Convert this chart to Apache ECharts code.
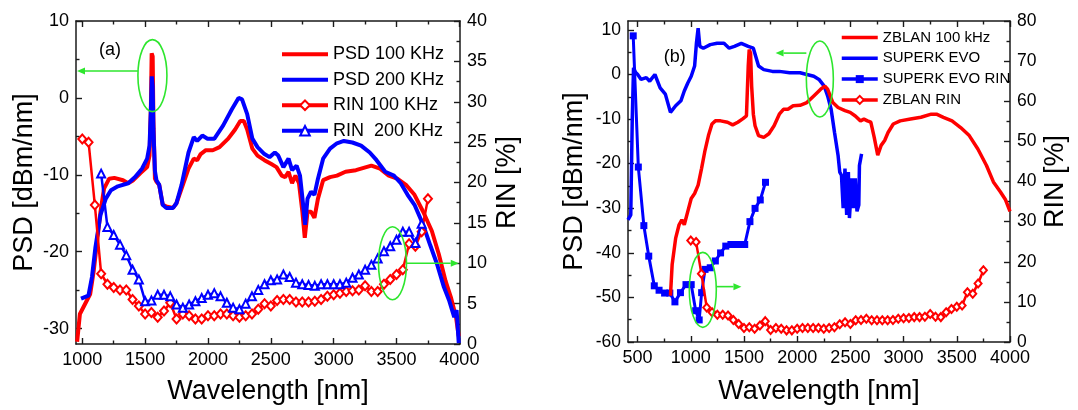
<!DOCTYPE html>
<html><head><meta charset="utf-8">
<script src="https://cdn.jsdelivr.net/npm/echarts@6/dist/echarts.min.js"></script>
<style>html,body{margin:0;padding:0;background:#fff}#c{width:1078px;height:410px}</style>
</head><body><div id="c"></div>
<script>
// ===== Panel (a) data =====
const aPsd100Nm = [959,981,1022,1063,1091,1118,1145,1173,1214,1255,1324,1365,1406,1461,1516,1535,1546,1552,1560,1566,1578,1590,1612,1640,1667,1722,1749,1790,1845,1887,1914,1942,1983,2038,2092,2161,2216,2257,2285,2312,2353,2394,2449,2504,2545,2587,2614,2641,2669,2696,2724,2751,2770,2792,2820,2847,2875,2916,2971,3026,3094,3177,3259,3300,3369,3438,3506,3575,3643,3712,3781,3836,3890,3932,3973,3995];
const aPsd100Db = [-31.7,-28.1,-26.8,-25.5,-22.5,-18.6,-14.8,-11.8,-10.5,-10.4,-10.7,-11.1,-10.7,-9.8,-9.0,-7.5,-1.0,5.8,5.4,-3.0,-10.5,-10.9,-11.3,-13.9,-14.1,-14.3,-13.7,-11.8,-9.2,-7.9,-8.1,-7.3,-6.8,-6.8,-6.4,-5.3,-4.1,-3.0,-3.0,-4.1,-6.6,-7.5,-8.1,-8.6,-9.0,-10.1,-10.3,-9.6,-11.1,-10.1,-11.1,-14.8,-18.2,-14.8,-14.8,-15.6,-13.1,-10.7,-10.3,-10.1,-9.6,-9.4,-9.0,-8.8,-9.2,-10.1,-10.5,-11.3,-12.6,-14.8,-17.3,-20.3,-23.8,-25.9,-28.5,-31.0];
const aPsd200Nm = [990,1049,1077,1104,1145,1187,1228,1283,1365,1420,1475,1516,1535,1546,1553,1560,1566,1578,1590,1612,1640,1667,1722,1749,1790,1845,1887,1914,1955,1996,2051,2120,2189,2243,2271,2312,2353,2394,2449,2490,2532,2559,2600,2641,2669,2705,2732,2757,2773,2792,2820,2847,2875,2916,2971,3026,3081,3149,3218,3287,3341,3410,3479,3534,3588,3643,3712,3767,3822,3877,3918,3959,3978,3995];
const aPsd200Db = [-26.1,-25.7,-23.3,-19.5,-15.2,-13.1,-12.0,-11.5,-11.1,-10.3,-9.2,-7.9,-6.2,-1.5,2.8,1.5,-4,-9.5,-10.7,-11.3,-13.9,-14.3,-14.3,-13.7,-11.3,-7.1,-5.1,-5.6,-4.9,-5.3,-5.3,-3.6,-1.5,0.0,-0.2,-2.1,-5.3,-6.4,-7.3,-7.7,-7.1,-7.5,-9.0,-7.9,-9.4,-8.8,-10.1,-13.9,-16.5,-13.1,-12.2,-12.6,-10.5,-7.9,-6.6,-5.9,-5.6,-5.8,-6.2,-7.1,-8.1,-9.6,-10.1,-11.1,-12.6,-13.9,-16.5,-19.1,-21.6,-24.6,-26.3,-28.5,-27.6,-31.9];
const aRin100Nm = [1000,1050,1100,1150,1200,1250,1300,1350,1400,1450,1500,1550,1600,1650,1700,1750,1800,1850,1900,1950,2000,2050,2100,2150,2200,2250,2300,2350,2400,2450,2500,2550,2600,2650,2700,2750,2800,2850,2900,2950,3000,3050,3100,3150,3200,3250,3300,3350,3400,3450,3500,3550,3600,3650,3700,3750];
const aRin100Pct = [25.4,25.0,17.2,8.7,7.4,7.0,6.7,6.7,5.5,4.7,3.7,3.9,3.3,4.1,5.1,3.1,3.7,3.5,3.1,3.1,3.5,3.5,3.7,3.7,3.5,3.3,3.5,3.7,4.3,5.0,4.7,5.4,5.5,5.5,5.2,5.2,5.2,5.3,5.5,5.9,6.1,6.3,6.5,6.6,6.7,7.2,6.5,6.5,7.4,8.0,8.6,9.2,12.4,12.1,13.9,18.0];
const aRin200Nm = [1150,1200,1250,1300,1350,1400,1450,1500,1550,1600,1650,1700,1750,1800,1850,1900,1950,2000,2050,2100,2150,2200,2250,2300,2350,2400,2450,2500,2550,2600,2650,2700,2750,2800,2850,2900,2950,3000,3050,3100,3150,3200,3250,3300,3350,3400,3450,3500,3550,3600,3650,3700];
const aRin200Pct = [21.1,14.5,13.5,12.3,11.0,9.2,8.0,5.3,5.4,6.1,6.1,5.9,4.9,4.5,4.9,5.3,5.7,6.1,6.3,5.9,5.1,4.5,4.3,5.0,5.9,6.7,7.4,7.9,8.0,8.6,8.3,7.6,7.4,7.3,7.2,7.4,7.4,7.4,7.4,7.6,8.2,8.6,9.2,9.8,10.6,11.5,12.1,12.9,13.9,13.9,12.5,14.9];

// ===== Panel (b) data =====
const bZblanNm = [809,825,858,890,916,939,972,1004,1036,1069,1101,1134,1166,1199,1231,1280,1345,1394,1442,1491,1523,1540,1549,1562,1572,1588,1604,1637,1686,1734,1783,1832,1871,1913,1962,2027,2091,2156,2221,2260,2286,2335,2384,2449,2498,2546,2595,2627,2660,2692,2724,2757,2789,2822,2854,2903,2968,3065,3163,3260,3309,3374,3455,3536,3617,3698,3779,3844,3909,3958,4000];
const bZblanDb = [-49.6,-42.6,-36.7,-33.7,-32.6,-33.7,-30.7,-27.8,-26.7,-24.8,-21.1,-17.0,-13.7,-11.1,-10.4,-10.4,-10.7,-11.3,-10.7,-9.9,-9.3,1.9,5.6,4.8,-2.6,-8.9,-11.5,-13.7,-14.1,-13.3,-11.5,-8.9,-7.8,-7.8,-7.0,-6.9,-6.3,-4.8,-3.3,-2.6,-3.3,-6.3,-7.4,-8.1,-8.5,-9.3,-10.4,-10.0,-10.4,-10.7,-14.1,-18.1,-15.9,-14.8,-13.0,-11.1,-10.4,-10.0,-9.6,-8.9,-8.9,-9.6,-10.4,-11.9,-13.7,-16.7,-20.4,-24.1,-26.3,-28.1,-30.7];
const bEvoNm = [410,436,450,462,480,501,533,582,614,663,712,761,809,858,907,939,972,1004,1036,1053,1069,1085,1118,1183,1247,1312,1361,1410,1475,1540,1588,1637,1686,1767,1832,1929,2027,2091,2156,2205,2254,2286,2319,2351,2384,2400,2416,2432,2449,2465,2481,2491,2514,2530,2546,2562,2579,2585,2605];
const bEvoDb = [-32.6,-31.5,-10,1.5,0.5,0,-1.1,-0.7,-1.5,0,-3.0,-4.4,-8.5,-7.0,-5.9,-3.7,-1.9,-0.4,1.9,7.0,10.4,6.3,5.9,6.7,7.0,7.0,5.9,6.3,7.0,6.3,5.9,1.9,1.1,0.7,0.7,0.4,0.4,0,-0.4,-1.1,-2.6,-4.8,-7.8,-13.0,-18.1,-21.9,-22.6,-30.0,-21.1,-31.5,-21.9,-32.2,-23.3,-30.0,-23.3,-30.7,-29.3,-20.4,-17.8];
const bEvoRinNm = [459,507,559,605,657,702,754,803,851,903,955,1004,1046,1079,1102,1134,1183,1231,1280,1329,1377,1426,1475,1507,1556,1604,1653,1702];
const bEvoRinPct = [76.3,43.6,29.0,21.4,14.0,12.9,12.2,12.2,10.0,12.3,14.3,14.3,7.8,5.5,12.3,18.1,18.5,20.2,22.2,23.9,24.3,24.3,24.3,24.3,30.0,33.3,35.4,39.8];
const bZblanRinNm = [1000,1050,1100,1150,1200,1250,1300,1350,1400,1450,1500,1550,1600,1650,1700,1750,1800,1850,1900,1950,2000,2050,2100,2150,2200,2250,2300,2350,2400,2450,2500,2550,2600,2650,2700,2750,2800,2850,2900,2950,3000,3050,3100,3150,3200,3250,3300,3350,3400,3450,3500,3550,3600,3650,3700,3750];
const bZblanRinPct = [25.3,24.9,17.0,8.6,7.4,6.8,6.8,6.6,5.5,4.5,3.5,3.7,3.3,4.1,5.2,3.0,3.5,3.3,2.9,2.9,3.3,3.5,3.5,3.5,3.5,3.3,3.5,3.7,4.4,4.9,4.5,5.4,5.5,5.8,5.4,5.4,5.4,5.4,5.5,5.8,5.9,6.0,6.2,6.2,6.3,7.0,6.3,6.2,7.4,8.2,8.8,9.1,12.4,12.0,14.6,17.9];

// ===== Tick values =====
const aXMajor = [1000,1500,2000,2500,3000,3500,4000];
const aXMinor = [1250,1750,2250,2750,3250,3750];
const aYLeftMajor = [-30,-20,-10,0,10];
const aYLeftMinor = [-25,-15,-5,5];
const aYRightMajor = [0,5,10,15,20,25,30,35,40];
const aYRightMinor = [2.5,7.5,12.5,17.5,22.5,27.5,32.5,37.5];
const bXMajor = [500,1000,1500,2000,2500,3000,3500,4000];
const bXMinor = [750,1250,1750,2250,2750,3250,3750];
const bYLeftMajor = [-60,-50,-40,-30,-20,-10,0,10];
const bYLeftMinor = [-55,-45,-35,-25,-15,-5,5];
const bYRightMajor = [0,10,20,30,40,50,60,70,80];
const bYRightMinor = [5,15,25,35,45,55,65,75];

const FONT = "'Liberation Sans', Arial, sans-serif";
const AX = '#1a1a1a';
const RED = '#ff0000', BLUE = '#0000ff', GREEN = '#2ee62e';
const plain = v => String(v);

function zip(xs, ys){ return xs.map((x,i)=>[x, ys[i]]); }

function xAxes(grid, min, max, majors, minors, name, nameGap){
  const base = {gridIndex:grid, type:'value', min, max, splitLine:{show:false}};
  const tick = (vals,len)=>({show:true, inside:true, length:len, customValues:vals, lineStyle:{color:AX,width:1.4}});
  return [
    Object.assign({}, base, {position:'bottom', name, nameLocation:'middle', nameGap,
      nameTextStyle:{fontSize:27, color:'#000', fontFamily:FONT},
      axisLine:{show:true,onZero:false,lineStyle:{color:AX,width:1.5}},
      axisTick:tick(majors,6),
      axisLabel:{show:true, customValues:majors, formatter:plain, fontSize:18, color:'#000', margin:7, fontFamily:FONT}}),
    Object.assign({}, base, {position:'bottom', axisLine:{show:false,onZero:false}, axisTick:tick(minors,3.5), axisLabel:{show:false}}),
    Object.assign({}, base, {position:'top', axisLine:{show:true,onZero:false,lineStyle:{color:AX,width:1.5}}, axisTick:tick(majors,6), axisLabel:{show:false}}),
    Object.assign({}, base, {position:'top', axisLine:{show:false,onZero:false}, axisTick:tick(minors,3.5), axisLabel:{show:false}})
  ];
}
function yAxes(grid, lmin, lmax, lMaj, lMin, rmin, rmax, rMaj, rMin, gapL, gapR, fs){
  const tick = (vals,len)=>({show:true, inside:true, length:len, customValues:vals, lineStyle:{color:AX,width:1.4}});
  const mk = (pos,min,max,maj,mnr,name,gap)=>[
    {gridIndex:grid, type:'value', min, max, position:pos, name, nameLocation:'middle', nameGap:gap,
      nameTextStyle:{fontSize:27,color:'#000',fontFamily:FONT}, splitLine:{show:false},
      axisLine:{show:true,onZero:false,lineStyle:{color:AX,width:1.5}},
      axisTick:tick(maj,6),
      axisLabel:{show:true, customValues:maj, formatter:plain, fontSize:fs, color:'#000', margin:7, fontFamily:FONT}},
    {gridIndex:grid, type:'value', min, max, position:pos, splitLine:{show:false},
      axisLine:{show:false,onZero:false}, axisTick:tick(mnr,3.5), axisLabel:{show:false}}
  ];
  return mk('left',lmin,lmax,lMaj,lMin,'PSD [dBm/nm]',gapL).concat(mk('right',rmin,rmax,rMaj,rMin,'RIN [%]',gapR));
}

const lineIconA = 'path://M0 0H46V4H0Z';
const lineIconB = 'path://M0 0H36V3.5H0Z';

const option = {
  animation:false,
  backgroundColor:'#fff',
  grid:[
    {left:76, top:21, width:384, height:326},
    {left:628, top:21, width:382, height:324}
  ],
  xAxis: xAxes(0, 950, 4005, aXMajor, aXMinor, 'Wavelength [nm]', 34)
          .concat(xAxes(1, 410, 4000, bXMajor, bXMinor, 'Wavelength [nm]', 36)),
  yAxis: yAxes(0, -32, 10, aYLeftMajor, aYLeftMinor, 0, 40, aYRightMajor, aYRightMinor, 38, 34, 18)
          .concat(yAxes(1, -60, 12, bYLeftMajor, bYLeftMinor, 0, 80, bYRightMajor, bYRightMinor, 40, 32, 17.5)),
  legend:[
    {data:[{name:'PSD 100 KHz',icon:lineIconA},{name:'PSD 200 KHz',icon:lineIconA},'RIN 100 KHz','RIN  200 KHz'],
     orient:'vertical', left:280, top:44, padding:0,
     itemWidth:46, itemHeight:12, itemGap:5, lineStyle:{width:4},
     textStyle:{fontSize:18, lineHeight:20.5, color:'#000', fontFamily:FONT}},
    {data:[{name:'ZBLAN 100 kHz',icon:lineIconB},{name:'SUPERK EVO',icon:lineIconB},'SUPERK EVO RIN','ZBLAN RIN'],
     orient:'vertical', left:840, top:29, padding:0,
     itemWidth:36, itemHeight:10, itemGap:3.8, lineStyle:{width:3.5},
     textStyle:{fontSize:15, lineHeight:17, color:'#000', fontFamily:FONT}}
  ],
  series:[
    {type:'line', name:'PSD 100 KHz', xAxisIndex:0, yAxisIndex:0, data:zip(aPsd100Nm,aPsd100Db), symbol:'none',
     lineStyle:{color:RED,width:4}, itemStyle:{color:RED}, z:2},
    {type:'line', name:'PSD 200 KHz', xAxisIndex:0, yAxisIndex:0, data:zip(aPsd200Nm,aPsd200Db), symbol:'none',
     lineStyle:{color:BLUE,width:4}, itemStyle:{color:BLUE}, z:3},
    {type:'line', name:'RIN 100 KHz', xAxisIndex:0, yAxisIndex:2, data:zip(aRin100Nm,aRin100Pct), symbol:'emptyDiamond', symbolSize:[8,9],
     lineStyle:{color:RED,width:2.5}, itemStyle:{color:RED, borderWidth:1.8}, z:4},
    {type:'line', name:'RIN  200 KHz', xAxisIndex:0, yAxisIndex:2, data:zip(aRin200Nm,aRin200Pct), symbol:'emptyTriangle', symbolSize:[8,8],
     lineStyle:{color:BLUE,width:2.5}, itemStyle:{color:BLUE, borderWidth:1.8}, z:5},

    {type:'line', name:'ZBLAN 100 kHz', xAxisIndex:4, yAxisIndex:4, data:zip(bZblanNm,bZblanDb), symbol:'none',
     lineStyle:{color:RED,width:3.5}, itemStyle:{color:RED}, z:4},
    {type:'line', name:'SUPERK EVO', xAxisIndex:4, yAxisIndex:4, data:zip(bEvoNm,bEvoDb), symbol:'none',
     lineStyle:{color:BLUE,width:3.5}, itemStyle:{color:BLUE}, z:3},
    {type:'line', name:'SUPERK EVO RIN', xAxisIndex:4, yAxisIndex:6, data:zip(bEvoRinNm,bEvoRinPct), symbol:'rect', symbolSize:7,
     lineStyle:{color:BLUE,width:3}, itemStyle:{color:BLUE}, z:3},
    {type:'line', name:'ZBLAN RIN', xAxisIndex:4, yAxisIndex:6, data:zip(bZblanRinNm,bZblanRinPct), symbol:'emptyDiamond', symbolSize:[7,8],
     lineStyle:{color:RED,width:2.5}, itemStyle:{color:RED, borderWidth:1.6}, z:5}
  ]
};

const chart = echarts.init(document.getElementById('c'), null, {renderer:'canvas'});
chart.setOption(option);

// ===== Annotations (positions in data units) =====
const annotations = [
  {xa:0, ya:0, cx:1558, cy:2.9, rx:14.5, ry:36, ay:3.5, tx:958, side:'left'},
  {xa:0, ya:2, cx:3468, cy:10.0, rx:14, ry:36.5, ay:10, tx:3995, side:'right'},
  {xa:4, ya:4, cx:2213, cy:-1.0, rx:13.5, ry:38, ay:4.8, tx:1797, side:'left'},
  {xa:4, ya:6, cx:1113, cy:13.0, rx:13.5, ry:37.5, ay:13.8, tx:1476, side:'right'}
];
const labels = [
  {xa:0, ya:0, x:1220, y:6.2, text:'(a)'},
  {xa:4, ya:4, x:849, y:3.9, text:'(b)'}
];
const g = [];
annotations.forEach(a=>{
  const c = chart.convertToPixel({xAxisIndex:a.xa, yAxisIndex:a.ya}, [a.cx, a.cy]);
  const t = chart.convertToPixel({xAxisIndex:a.xa, yAxisIndex:a.ya}, [a.tx, a.ay]);
  g.push({type:'ellipse', shape:{cx:c[0], cy:c[1], rx:a.rx, ry:a.ry}, style:{fill:'none', stroke:GREEN, lineWidth:1.6}, z:100});
  const sx = a.side==='left' ? c[0]-a.rx : c[0]+a.rx;
  const dir = a.side==='left' ? -1 : 1;
  const hl = 8, hw = 3.5;
  g.push({type:'line', shape:{x1:sx, y1:t[1], x2:t[0]-dir*hl, y2:t[1]}, style:{stroke:GREEN, lineWidth:1.6}, z:100});
  g.push({type:'polygon', shape:{points:[[t[0],t[1]],[t[0]-dir*hl,t[1]-hw],[t[0]-dir*hl,t[1]+hw]]}, style:{fill:GREEN}, z:100});
});
labels.forEach(l=>{
  const p = chart.convertToPixel({xAxisIndex:l.xa, yAxisIndex:l.ya}, [l.x, l.y]);
  g.push({type:'text', x:p[0], y:p[1], style:{text:l.text, fontSize:18, fontFamily:FONT, fill:'#000', align:'center', verticalAlign:'middle'}, z:100});
});
chart.setOption({graphic:g});
</script>
</body></html>
